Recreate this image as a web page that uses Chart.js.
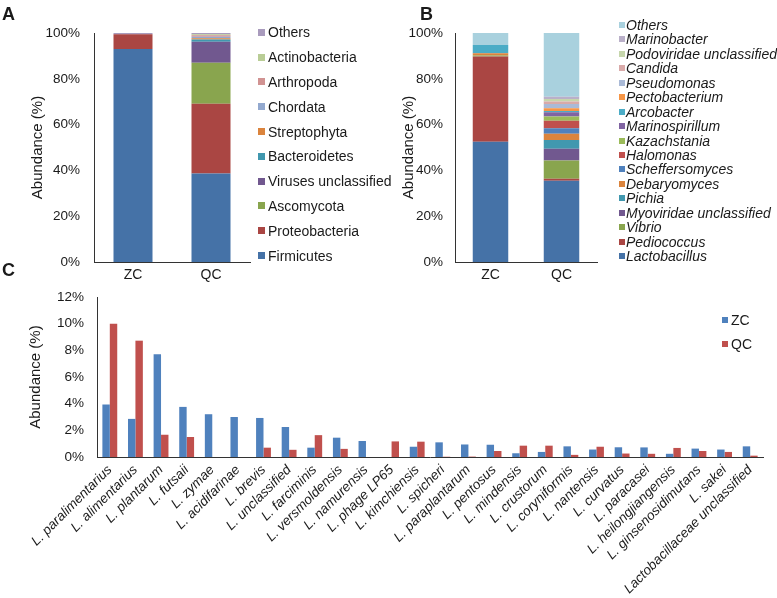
<!DOCTYPE html>
<html>
<head>
<meta charset="utf-8">
<title>Abundance of ZC and QC</title>
<script src="https://cdn.jsdelivr.net/npm/chart.js@4.4.0/dist/chart.umd.min.js"></script>
<style>
  body { margin: 0; background: #fff; font-family: 'Liberation Sans', Arial, sans-serif; color: #1a1a1a; }
  #page { position: relative; width: 777px; height: 598px; overflow: hidden; }
  canvas, .panel-label, .legend { position: absolute; }
  .panel-label { font-weight: bold; font-size: 18px; line-height: 18px; }
  .legend span { position: absolute; white-space: nowrap; }
  .legend .text { font-size: 14px; line-height: 16px; }
  #legend-b .text { font-style: italic; }
</style>
</head>
<body>
<div id="page">
  <canvas id="chart-a" width="252" height="295" style="left:0;top:0"></canvas>
  <canvas id="chart-b" width="230" height="295" style="left:390px;top:0"></canvas>
  <canvas id="chart-c" width="777" height="322" style="left:0;top:276px"></canvas>
  <div class="panel-label" style="left:2px;top:5px">A</div>
  <div class="panel-label" style="left:420px;top:5px">B</div>
  <div class="panel-label" style="left:2px;top:261px">C</div>
  <div class="legend" id="legend-a" style="left:258px;top:0"></div>
  <div class="legend" id="legend-b" style="left:619px;top:0"></div>
  <div class="legend" id="legend-c" style="left:722px;top:0"></div>
</div>
<script>
const groups = ['ZC', 'QC']

// A - phylum level
const phyla = ['Firmicutes', 'Proteobacteria', 'Ascomycota', 'Viruses unclassified', 'Bacteroidetes',
  'Streptophyta', 'Chordata', 'Arthropoda', 'Actinobacteria', 'Others']
const phylumZC = [93.0, 6.4, 0, 0, 0, 0, 0.2, 0, 0, 0.4]
const phylumQC = [38.7, 30.4, 17.9, 9.2, 1.0, 0.5, 0.7, 0.6, 0.4, 0.6]

// B - genus level
const genera = ['Lactobacillus', 'Pediococcus', 'Vibrio', 'Myoviridae unclassified', 'Pichia', 'Debaryomyces',
  'Scheffersomyces', 'Halomonas', 'Kazachstania', 'Marinospirillum', 'Arcobacter', 'Pectobacterium',
  'Pseudomonas', 'Candida', 'Podoviridae unclassified', 'Marinobacter', 'Others']
const genusZC = [52.5, 37.2, 0.5, 0, 0, 1.0, 0, 0, 0, 0, 3.6, 0, 0, 0, 0, 0, 5.2]
const genusQC = [35.5, 0.8, 8.0, 5.1, 3.9, 2.7, 2.4, 3.3, 1.8, 1.9, 0.5, 1.2, 1.9, 1.1, 1.1, 1.0, 27.8]

// C - Lactobacillus species
const species = ['L. paralimentarius', 'L. alimentarius', 'L. plantarum', 'L. futsaii', 'L. zymae',
  'L. acidifarinae', 'L. brevis', 'L. unclassified', 'L. farciminis', 'L. versmoldensis', 'L. namurensis',
  'L. phage LP65', 'L. kimchiensis', 'L. spicheri', 'L. paraplantarum', 'L. pentosus', 'L. mindensis',
  'L. crustorum', 'L. coryniformis', 'L. nantensis', 'L. curvatus', 'L. paracasei', 'L. heilongjiangensis',
  'L. ginsenosidimutans', 'L. sakei', 'Lactobacillaceae unclassified']
const speciesZC = [3.94, 2.86, 7.72, 3.76, 3.21, 3.0, 2.93, 2.25, 0.70, 1.45, 1.20, 0, 0.77, 1.10, 0.94,
  0.92, 0.28, 0.38, 0.80, 0.56, 0.73, 0.72, 0.24, 0.63, 0.56, 0.80]
const speciesQC = [10.0, 8.73, 1.67, 1.50, 0, 0, 0.70, 0.54, 1.64, 0.61, 0, 1.17, 1.15, 0.02, 0.03,
  0.45, 0.85, 0.85, 0.16, 0.77, 0.26, 0.24, 0.68, 0.45, 0.38, 0.10]

const phylumColors = ['#4572A7', '#AA4643', '#89A54E', '#71588F', '#4198AF', '#DB843D', '#93A9CF',
  '#D19392', '#B9CD96', '#A99BBD']
const genusColors = ['#4572A7', '#AA4643', '#89A54E', '#71588F', '#4198AF', '#DB843D', '#4F81BD',
  '#C0504D', '#9BBB59', '#8064A2', '#4BACC6', '#F79646', '#AABAD7', '#D9AAA9', '#C6D6AC', '#BAB0C9', '#A9D1DE']
const groupColors = ['#4F81BD', '#C0504D']

const textColor = '#1a1a1a'
const axisColor = '#333'
const fontFamily = "'Liberation Sans', Arial, sans-serif"

Chart.defaults.font.family = fontFamily
Chart.defaults.color = textColor

function percentAxis(max, step, width, titlePad, tickPad, stacked) {
  return {
    min: 0,
    max: max,
    stacked: stacked,
    ticks: {stepSize: step, padding: tickPad, font: {size: 13.5}, callback: v => v + '%'},
    grid: {display: false, drawTicks: false},
    border: {display: true, color: axisColor},
    title: {display: true, text: 'Abundance (%)', font: {size: 15}, padding: {top: titlePad, bottom: 0}},
    afterFit: scale => { scale.width = width }
  }
}

function stackedChart(el, names, zc, qc, colors, box) {
  const datasets = names.map((name, i) => ({
    label: name,
    data: [zc[i], qc[i]],
    backgroundColor: colors[i],
    borderWidth: 0,
    barPercentage: 0.5,
    categoryPercentage: 1
  }))

  return new Chart(el, {
    type: 'bar',
    data: {labels: groups, datasets: datasets},
    options: {
      responsive: false,
      animation: false,
      layout: {padding: {left: 0, top: box.top, right: box.right, bottom: 3}},
      plugins: {legend: {display: false}, tooltip: {enabled: false}},
      scales: {
        x: {
          stacked: true,
          ticks: {padding: 5, font: {size: 14}},
          grid: {display: false, drawTicks: false},
          border: {display: true, color: axisColor},
          afterFit: scale => { scale.height = 30 }
        },
        y: percentAxis(100, 20, box.axisX, box.titlePad, box.tickPad, true)
      }
    }
  })
}

function buildLegend(el, names, colors, opts) {
  const order = names.map((n, i) => i)
  if (opts.reverse) order.reverse()

  order.forEach((idx, row) => {
    const y = opts.first + row * opts.step
    const box = document.createElement('span')
    box.style.left = '0px'
    box.style.top = (y - opts.box / 2) + 'px'
    box.style.width = opts.box + 'px'
    box.style.height = opts.box + 'px'
    box.style.background = colors[idx]

    const text = document.createElement('span')
    text.className = 'text'
    text.textContent = names[idx]
    text.style.left = opts.gap + 'px'
    text.style.top = (y - 8) + 'px'

    el.appendChild(box)
    el.appendChild(text)
  })
}

stackedChart(document.getElementById('chart-a'), phyla, phylumZC, phylumQC, phylumColors,
  {top: 33, right: 2, axisX: 94, titlePad: 29, tickPad: 14})
stackedChart(document.getElementById('chart-b'), genera, genusZC, genusQC, genusColors,
  {top: 33, right: 23, axisX: 65, titlePad: 10, tickPad: 12})

new Chart(document.getElementById('chart-c'), {
  type: 'bar',
  data: {
    labels: species,
    datasets: [
      {label: 'ZC', data: speciesZC, backgroundColor: groupColors[0]},
      {label: 'QC', data: speciesQC, backgroundColor: groupColors[1]}
    ]
  },
  options: {
    responsive: false,
    animation: false,
    datasets: {bar: {borderWidth: 0, barPercentage: 1, categoryPercentage: 0.58}},
    layout: {padding: {left: 0, top: 11, right: 14, bottom: 0}},
    plugins: {legend: {display: false}, tooltip: {enabled: false}},
    scales: {
      x: {
        ticks: {
          autoSkip: false,
          minRotation: 45,
          maxRotation: 45,
          padding: 5,
          font: {size: 13.5, style: 'italic'}
        },
        grid: {display: false, drawTicks: false},
        border: {display: true, color: axisColor},
        afterFit: scale => { scale.height = 141 }
      },
      y: percentAxis(12, 2, 97, 27, 13, false)
    }
  }
})

buildLegend(document.getElementById('legend-a'), phyla, phylumColors,
  {reverse: true, first: 32.3, step: 24.8, box: 7, gap: 10})
buildLegend(document.getElementById('legend-b'), genera, genusColors,
  {reverse: true, first: 25, step: 14.44, box: 6, gap: 7})
buildLegend(document.getElementById('legend-c'), groups, groupColors,
  {reverse: false, first: 319.5, step: 24, box: 6, gap: 9})
</script>
</body>
</html>
